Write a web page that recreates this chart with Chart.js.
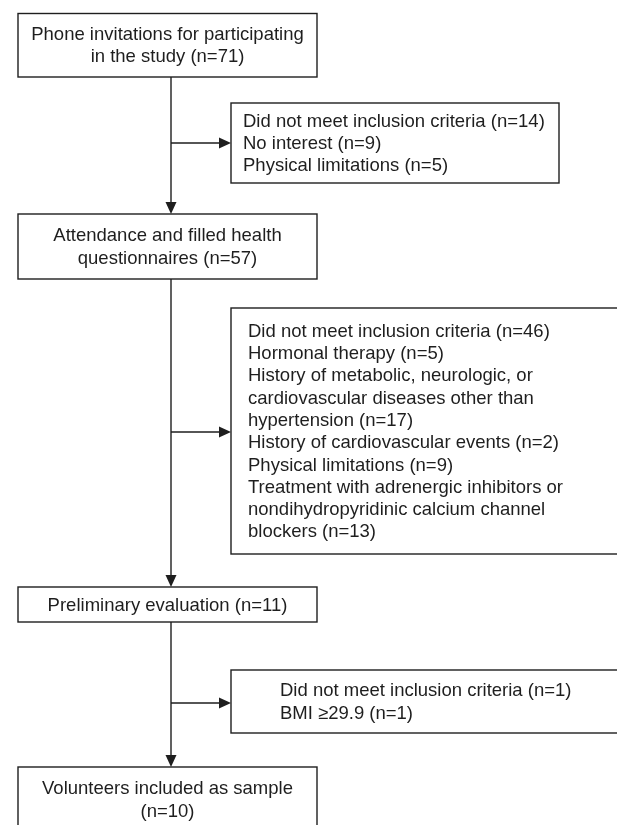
<!DOCTYPE html>
<html>
<head>
<meta charset="utf-8">
<script src="https://cdn.jsdelivr.net/npm/chart.js@4.4.1/dist/chart.umd.min.js"></script>
<style>
  html, body { margin: 0; padding: 0; background: #fff; }
  #flow { display: block; }
</style>
</head>
<body>
<canvas id="flow" width="617" height="825"></canvas>
<script>
// main stages of the flow
const stageLabels = [
  "Phone invitations for participating\nin the study",
  "Attendance and filled health\nquestionnaires",
  "Preliminary evaluation",
  "Volunteers included as sample\n"
];
const stageCounts = [71, 57, 11, 10];

// exclusions between stages
const exclusion1Labels = ["Did not meet inclusion criteria", "No interest", "Physical limitations"];
const exclusion1Counts = [14, 9, 5];

const exclusion2Labels = [
  "Did not meet inclusion criteria",
  "Hormonal therapy",
  "History of metabolic, neurologic, or\ncardiovascular diseases other than\nhypertension",
  "History of cardiovascular events",
  "Physical limitations",
  "Treatment with adrenergic inhibitors or\nnondihydropyridinic calcium channel\nblockers"
];
const exclusion2Counts = [46, 5, 17, 2, 9, 13];

const exclusion3Labels = ["Did not meet inclusion criteria", "BMI \u226529.9"];
const exclusion3Counts = [1, 1];

function withCount(label, n) {
  const sep = label.endsWith("\n") ? "" : " ";
  return label + sep + "(n=" + n + ")";
}
function linesOf(labels, counts) {
  let out = [];
  labels.forEach((l, i) => { out = out.concat(withCount(l, counts[i]).split("\n")); });
  return out;
}

// box layout, in chart units (x 0..617, y 0..825 top-down)
const stageBoxes = [
  { x0: 18, x1: 317, y0: 13.5, y1: 77 },
  { x0: 18, x1: 317, y0: 214, y1: 279 },
  { x0: 18, x1: 317, y0: 587, y1: 622 },
  { x0: 18, x1: 317, y0: 767, y1: 832 }
];
const exclusionBoxes = [
  { x0: 231, x1: 559, y0: 103, y1: 183, tx: 243, arrowY: 143 },
  { x0: 231, x1: 650, y0: 308, y1: 554, tx: 248, arrowY: 432 },
  { x0: 231, x1: 650, y0: 670, y1: 733, tx: 280, arrowY: 703 }
];
const spineX = 171;

const exclusionLines = [
  linesOf(exclusion1Labels, exclusion1Counts),
  linesOf(exclusion2Labels, exclusion2Counts),
  linesOf(exclusion3Labels, exclusion3Counts)
];

const FONT = '18.5px "Liberation Sans", Arial, sans-serif';
const LINE_H = 22.3;

function arrow(ctx, x0, y0, x1, y1) {
  const ang = Math.atan2(y1 - y0, x1 - x0);
  const len = 12, half = 5.5;
  ctx.beginPath();
  ctx.moveTo(x0, y0);
  ctx.lineTo(x1 - len * Math.cos(ang), y1 - len * Math.sin(ang));
  ctx.stroke();
  ctx.beginPath();
  ctx.moveTo(x1, y1);
  ctx.lineTo(x1 - len * Math.cos(ang) + half * Math.sin(ang), y1 - len * Math.sin(ang) - half * Math.cos(ang));
  ctx.lineTo(x1 - len * Math.cos(ang) - half * Math.sin(ang), y1 - len * Math.sin(ang) + half * Math.cos(ang));
  ctx.closePath();
  ctx.fill();
}

const flowPlugin = {
  id: "flowchart",
  afterDraw(chart) {
    const ctx = chart.ctx;
    const sx = chart.scales.x, sy = chart.scales.y;
    const px = v => sx.getPixelForValue(v);
    const py = v => sy.getPixelForValue(v);

    ctx.save();
    ctx.strokeStyle = "#1e1e1e";
    ctx.fillStyle = "#1e1e1e";
    ctx.lineWidth = 1.4;
    ctx.font = FONT;
    ctx.textBaseline = "middle";

    function drawBox(b, lines, align, tx) {
      ctx.strokeRect(px(b.x0), py(b.y0), px(b.x1) - px(b.x0), py(b.y1) - py(b.y0));
      const cy = (py(b.y0) + py(b.y1)) / 2 + 1;
      const first = cy - (lines.length - 1) * LINE_H / 2;
      ctx.textAlign = align;
      const x = align === "center" ? (px(b.x0) + px(b.x1)) / 2 : px(tx);
      lines.forEach((t, i) => ctx.fillText(t, x, first + i * LINE_H));
    }

    stageBoxes.forEach((b, i) => {
      drawBox(b, withCount(stageLabels[i], stageCounts[i]).split("\n"), "center");
    });
    exclusionBoxes.forEach((b, i) => drawBox(b, exclusionLines[i], "left", b.tx));

    // spine with arrows down to each next stage
    for (let i = 0; i < stageBoxes.length - 1; i++) {
      arrow(ctx, px(spineX), py(stageBoxes[i].y1), px(spineX), py(stageBoxes[i + 1].y0));
    }
    // side arrows to exclusion boxes
    exclusionBoxes.forEach(b => arrow(ctx, px(spineX), py(b.arrowY), px(b.x0), py(b.arrowY)));
    ctx.restore();
  }
};

new Chart(document.getElementById("flow").getContext("2d"), {
  type: "scatter",
  data: { datasets: [{ data: [], pointRadius: 0 }] },
  options: {
    responsive: false,
    animation: false,
    events: [],
    layout: { padding: 0 },
    plugins: { legend: { display: false }, tooltip: { enabled: false } },
    scales: {
      x: { type: "linear", min: 0, max: 617, display: false },
      y: { type: "linear", min: 0, max: 825, reverse: true, display: false }
    }
  },
  plugins: [flowPlugin]
});
</script>
</body>
</html>
